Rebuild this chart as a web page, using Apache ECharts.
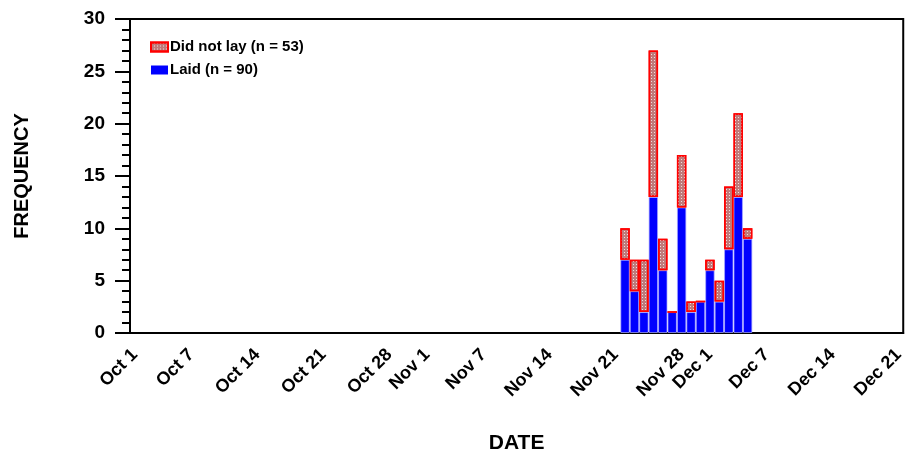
<!DOCTYPE html>
<html lang="en">
<head>
    <meta charset="UTF-8">
    <title>Egg laying frequency</title>
    <style type="text/css">
        html, body { margin: 0; padding: 0; background: #fff; }
        #main { width: 907px; height: 459px; }
    </style>
</head>
<body>
<div id="main"></div>
<script type="text/javascript" src="https://cdn.jsdelivr.net/npm/echarts@6/dist/echarts.min.js"></script>
<script type="text/javascript">
    // days shown on the axis run Oct 1 .. Dec 21
    var monthNames = ['Oct', 'Nov', 'Dec'];
    var monthDays = [31, 30, 21];
    var tickLabels = ['Oct 1', 'Oct 7', 'Oct 14', 'Oct 21', 'Oct 28', 'Nov 1', 'Nov 7',
        'Nov 14', 'Nov 21', 'Nov 28', 'Dec 1', 'Dec 7', 'Dec 14', 'Dec 21'];

    // bars (one per day)
    var barDays = ['Nov 22', 'Nov 23', 'Nov 24', 'Nov 25', 'Nov 26', 'Nov 27', 'Nov 28',
        'Nov 29', 'Nov 30', 'Dec 1', 'Dec 2', 'Dec 3', 'Dec 4', 'Dec 5'];
    var laid    = [7, 4, 2, 13, 6, 2, 12, 2, 3, 6, 3, 8, 13, 9];
    var notLaid = [3, 3, 5, 14, 3, 0, 5, 1, 0, 1, 2, 6, 8, 1];

    var days = [];
    for (var m = 0; m < monthNames.length; m++) {
        for (var d = 1; d <= monthDays[m]; d++) {
            days.push(monthNames[m] + ' ' + d);
        }
    }

    var laidData = days.map(function (day) {
        var i = barDays.indexOf(day);
        return i < 0 ? null : laid[i];
    });
    var notLaidData = days.map(function (day) {
        var i = barDays.indexOf(day);
        return i < 0 ? null : notLaid[i];
    });

    var font = 'Liberation Sans, Arial, sans-serif';
    var myChart = echarts.init(document.getElementById('main'));
    var dotDecal = {
        symbol: 'rect',
        symbolSize: 1,
        dashArrayX: [1, 2],
        dashArrayY: [1, 2],
        color: 'rgba(255,255,255,0.75)'
    };

    var option = {
        animation: false,
        backgroundColor: '#fff',
        legend: {
            orient: 'vertical',
            left: 150,
            top: 39,
            padding: 0,
            icon: 'rect',
            itemWidth: 17,
            itemHeight: 9,
            itemGap: 7,
            textStyle: { fontFamily: font, fontWeight: 'bold', fontSize: 15, lineHeight: 16, color: '#000', padding: [0, 0, 0, -3] },
            data: [
                { name: 'Did not lay (n = 53)' },
                { name: 'Laid (n = 90)', itemStyle: { borderWidth: 0 } }
            ]
        },
        grid: {
            left: 130, right: 3, top: 19, bottom: 123,
            show: true, borderColor: '#000', borderWidth: 2
        },
        xAxis: {
            type: 'category',
            data: days,
            boundaryGap: true,
            name: 'DATE',
            nameLocation: 'middle',
            nameGap: 100,
            nameTextStyle: { fontFamily: font, fontWeight: 'bold', fontSize: 21, color: '#000' },
            axisLine: { lineStyle: { color: '#000', width: 2 } },
            axisTick: { alignWithLabel: true, interval: 0, length: 10, lineStyle: { color: '#000', width: 2 } },
            axisLabel: {
                interval: 0,
                rotate: 45,
                margin: 19,
                fontFamily: font,
                fontWeight: 'bold',
                fontSize: 18,
                color: '#000',
                formatter: function (v) {
                    return tickLabels.indexOf(v) >= 0 ? v : '';
                }
            },
            splitLine: { show: false }
        },
        yAxis: {
            type: 'value',
            min: 0,
            max: 30,
            interval: 5,
            name: 'FREQUENCY',
            nameLocation: 'middle',
            nameGap: 98,
            nameRotate: 90,
            nameTextStyle: { fontFamily: font, fontWeight: 'bold', fontSize: 20, color: '#000' },
            axisLine: { show: true, lineStyle: { color: '#000', width: 2 } },
            axisTick: { show: true, length: 15, lineStyle: { color: '#000', width: 2 } },
            minorTick: { show: true, splitNumber: 5, length: 8, lineStyle: { color: '#000', width: 2 } },
            axisLabel: { margin: 25, fontFamily: font, fontWeight: 'bold', fontSize: 19, color: '#000' },
            splitLine: { show: false }
        },
        series: [
            {
                name: 'Laid (n = 90)',
                type: 'bar',
                stack: 'total',
                barCategoryGap: '0%',
                data: laidData,
                itemStyle: { color: '#0000ff', borderColor: 'rgba(170,170,255,0.7)', borderWidth: 1 }
            },
            {
                name: 'Did not lay (n = 53)',
                type: 'bar',
                stack: 'total',
                barCategoryGap: '0%',
                data: notLaidData,
                itemStyle: { color: '#c07a7a', borderColor: '#ff0000', borderWidth: 1.5, decal: dotDecal }
            }
        ]
    };
    myChart.setOption(option);
</script>
</body>
</html>
